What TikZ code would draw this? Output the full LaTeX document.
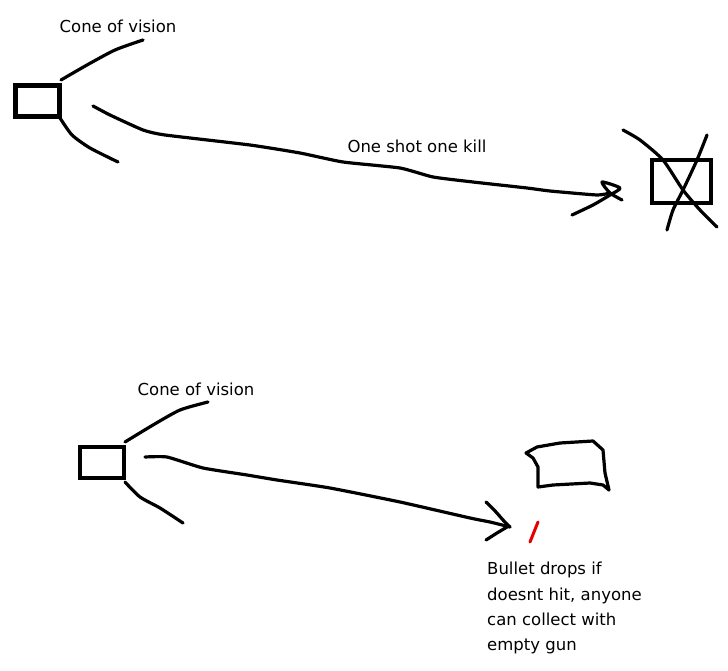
\documentclass[tikz,border=0pt]{standalone}
\usepackage{fontspec}
\setmainfont{DejaVu Sans}
\begin{document}
\begin{tikzpicture}[x=1pt,y=-1pt,
  stroke/.style={line width=3.2pt,line cap=round,line join=round},
  box/.style={draw,line width=4.8pt,inner sep=0pt},
  lbl/.style={font=\fontsize{16.5}{25.3}\selectfont,inner sep=0pt}]
\useasboundingbox (0,0) rectangle (728,671);
% top scene
\node[box,minimum width=44pt,minimum height=31pt] (b1) at (37.5,101) {};
\node[lbl] (t1) at (118,26) {Cone of vision};
\draw[stroke] plot[smooth,tension=0.4] coordinates {(61,80) (87,65) (115,50) (143,40)};
\draw[stroke] plot[smooth,tension=0.4] coordinates {(60,118) (72,135) (90,148) (118,162)};
\draw[stroke] plot[smooth,tension=0.3] coordinates {(93,106) (110,115) (143,130) (165,135) (250,145) (300,153) (343,162) (400,168) (433,177) (473,182) (527,188) (550,191) (597,195) (610,193)};
\draw[stroke] plot[smooth,tension=0.4] coordinates {(572,215) (593,205) (610,195) (620,188) (602,182) (610,193) (622,200)};
\node[lbl] (t2) at (417,146) {One shot one kill};
\node[box,minimum width=59pt,minimum height=43pt] (b2) at (681.5,181.5) {};
\draw[stroke] plot[smooth,tension=0.4] coordinates {(623,130) (640,140) (663,160) (683,190) (700,210) (717,227)};
\draw[stroke] plot[smooth,tension=0.4] coordinates {(707,135) (697,160) (683,190) (673,210) (667,230)};
% bottom scene
\node[box,minimum width=44pt,minimum height=31pt] (b3) at (102,462.5) {};
\node[lbl] (t3) at (196,389) {Cone of vision};
\draw[stroke] plot[smooth,tension=0.4] coordinates {(125,442) (153,425) (180,410) (208,402)};
\draw[stroke] plot[smooth,tension=0.4] coordinates {(125,482) (140,497) (160,508) (183,523)};
\draw[stroke] plot[smooth,tension=0.3] coordinates {(145,457) (167,457) (203,468) (247,475) (277,480) (330,488) (400,502) (470,518) (490,522) (510,527)};
\draw[stroke] plot[smooth,tension=0.4] coordinates {(486,502) (496,512) (503,520) (510,527)};
\draw[stroke] plot[smooth,tension=0.4] coordinates {(486,540) (497,533) (507,527)};
\draw[stroke] (526,453) -- (537,447) -- (560,443) -- (593,441) -- (603,450) -- (605,473) -- (609,490) -- (603,485) -- (590,483) -- (553,485) -- (538,487) -- (538,467) -- (533,458) -- cycle;
\draw[stroke,red!90!black,line width=3pt] (538,522) -- (530,542);
\node[lbl,anchor=north west,align=left] (t4) at (487,562) {Bullet drops if\\doesnt hit, anyone\\can collect with\\empty gun};
\end{tikzpicture}
\end{document}
